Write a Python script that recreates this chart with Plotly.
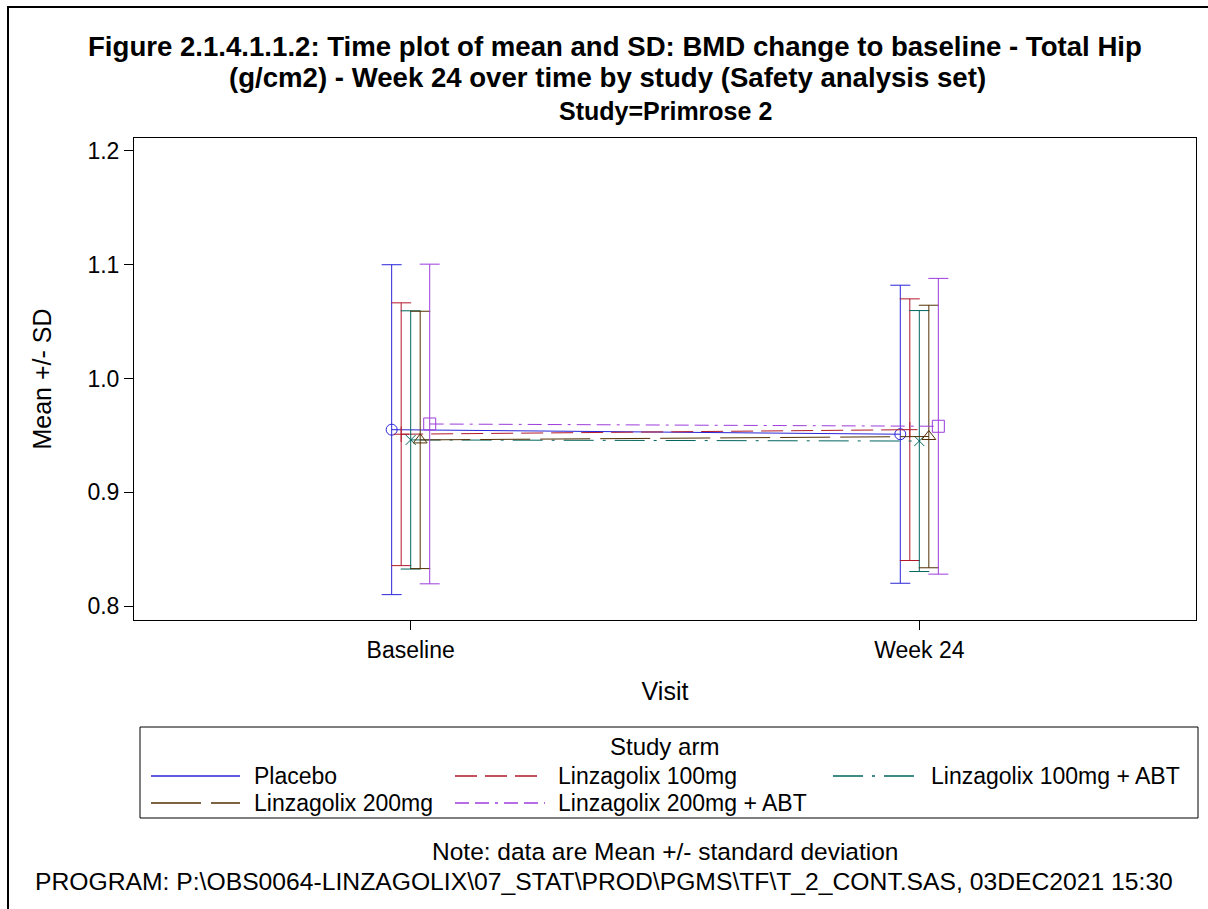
import plotly.graph_objects as go

# ---- data -------------------------------------------------------------
visits = ["Baseline", "Week 24"]
arms = ["Placebo", "Linzagolix 100mg", "Linzagolix 100mg + ABT",
        "Linzagolix 200mg", "Linzagolix 200mg + ABT"]

mean_placebo = [0.955, 0.951]
sd_placebo = [0.145, 0.131]
mean_l100 = [0.951, 0.955]
sd_l100 = [0.1155, 0.115]
mean_l100abt = [0.946, 0.945]
sd_l100abt = [0.1135, 0.1147]
mean_l200 = [0.946, 0.949]
sd_l200 = [0.1131, 0.1154]
mean_l200abt = [0.960, 0.958]
sd_l200abt = [0.1405, 0.130]

means = [mean_placebo, mean_l100, mean_l100abt, mean_l200, mean_l200abt]
sds = [sd_placebo, sd_l100, sd_l100abt, sd_l200, sd_l200abt]

y_ticks = [0.8, 0.9, 1.0, 1.1, 1.2]

# ---- styling ----------------------------------------------------------
colors = ["#2A25D9", "#B2182B", "#01665E", "#543005", "#9D3CDB"]
dashes = ["solid", "22px,8px", "30px,9px,3px,9px", "50px,10px",
          "14px,6px,14px,6px,3px,6px"]
symbols = ["circle-open", "cross-thin-open", "x-thin-open",
           "triangle-up-open", "square-open"]
msizes = [11, 11, 10, 12, 12]

FONT = "Liberation Sans, Arial, sans-serif"
W, H = 1208, 909
L, R, T, B = 134, 12, 138, 289
PW, PH = W - L - R, H - T - B


def px(x):
    return (x - L) / PW


def py(y):
    return (H - B - y) / PH


group_step = 0.0187

fig = go.Figure()
for i, arm in enumerate(arms):
    off = (i - 2) * group_step
    xs = [k + off for k in range(len(visits))]
    fig.add_trace(go.Scatter(
        x=xs, y=means[i], name=arm, mode="lines+markers",
        line=dict(color=colors[i], width=1, dash=dashes[i]),
        marker=dict(symbol=symbols[i], size=msizes[i], color=colors[i],
                    line=dict(color=colors[i], width=1)),
        error_y=dict(type="data", array=sds[i], visible=True,
                     color=colors[i], thickness=1, width=10),
        showlegend=False,
    ))

fig.update_xaxes(
    range=[-0.544, 1.544], tickmode="array", tickvals=[0, 1], ticktext=visits,
    ticks="outside", ticklen=9, tickcolor="black", showgrid=False, zeroline=False,
    showline=True, linecolor="black", linewidth=1, mirror=True,
    tickfont=dict(family=FONT, size=23, color="black"),
    title=dict(text="Visit", font=dict(family=FONT, size=25, color="black"), standoff=20),
)
fig.update_yaxes(
    range=[0.7877, 1.2114], tickmode="array", tickvals=y_ticks,
    ticktext=[f"{v:.1f}" for v in y_ticks],
    ticks="outside", ticklen=9, tickcolor="black", showgrid=False, zeroline=False,
    showline=True, linecolor="black", linewidth=1, mirror=True,
    tickfont=dict(family=FONT, size=23, color="black"),
    title=dict(text="Mean +/- SD", font=dict(family=FONT, size=25, color="black"), standoff=28),
)

shapes = []
annotations = []

# outer frame of the page
shapes.append(dict(type="rect", xref="paper", yref="paper",
                   x0=px(8), y0=py(H + 50), x1=px(W + 50), y1=py(7),
                   line=dict(color="black", width=2)))

# titles
annotations.append(dict(text="<b>Figure 2.1.4.1.1.2: Time plot of mean and SD: BMD change to baseline - Total Hip</b>",
                        x=px(615), y=py(46), xref="paper", yref="paper", showarrow=False,
                        font=dict(family=FONT, size=27.6, color="black"), xanchor="center", yanchor="middle"))
annotations.append(dict(text="<b>(g/cm2) - Week 24 over time by study (Safety analysis set)</b>",
                        x=px(607), y=py(77), xref="paper", yref="paper", showarrow=False,
                        font=dict(family=FONT, size=27.6, color="black"), xanchor="center", yanchor="middle"))
annotations.append(dict(text="<b>Study=Primrose 2</b>",
                        x=0.5, y=py(111), xref="paper", yref="paper", showarrow=False,
                        font=dict(family=FONT, size=25, color="black"), xanchor="center", yanchor="middle"))

# legend box
shapes.append(dict(type="rect", xref="paper", yref="paper",
                   x0=px(140), y0=py(818), x1=px(1198), y1=py(727),
                   line=dict(color="black", width=1)))
annotations.append(dict(text="Study arm", x=px(664), y=py(746), xref="paper", yref="paper",
                        showarrow=False, font=dict(family=FONT, size=24, color="black"),
                        xanchor="center", yanchor="middle"))
legend_pos = [(151, 240, 252, 776), (455, 540, 556, 776), (833, 918, 929, 776),
              (151, 240, 252, 803), (455, 545, 556, 803)]
for i, arm in enumerate(arms):
    x0, x1, xt, yy = legend_pos[i]
    shapes.append(dict(type="line", xref="paper", yref="paper",
                       x0=px(x0), x1=px(x1), y0=py(yy), y1=py(yy),
                       line=dict(color=colors[i], width=1.5, dash=dashes[i])))
    annotations.append(dict(text=arm, x=px(xt), y=py(yy), xref="paper", yref="paper",
                            showarrow=False, font=dict(family=FONT, size=23, color="black"),
                            xanchor="left", yanchor="middle"))

# footnotes
annotations.append(dict(text="Note: data are Mean +/- standard deviation",
                        x=px(665), y=py(851), xref="paper", yref="paper", showarrow=False,
                        font=dict(family=FONT, size=24.5, color="black"), xanchor="center", yanchor="middle"))
annotations.append(dict(text="PROGRAM: P:\\OBS0064-LINZAGOLIX\\07_STAT\\PROD\\PGMS\\TF\\T_2_CONT.SAS, 03DEC2021 15:30",
                        x=px(33), y=py(882), xref="paper", yref="paper", showarrow=False,
                        font=dict(family=FONT, size=24.7, color="black"), xanchor="left", yanchor="middle"))

fig.update_layout(
    width=W, height=H, autosize=False,
    margin=dict(l=L, r=R, t=T, b=B),
    paper_bgcolor="white", plot_bgcolor="white",
    showlegend=False, shapes=shapes, annotations=annotations,
    font=dict(family=FONT, color="black"),
)

fig.write_html("out.html", include_plotlyjs=True, full_html=True,
               config={"displayModeBar": False})
